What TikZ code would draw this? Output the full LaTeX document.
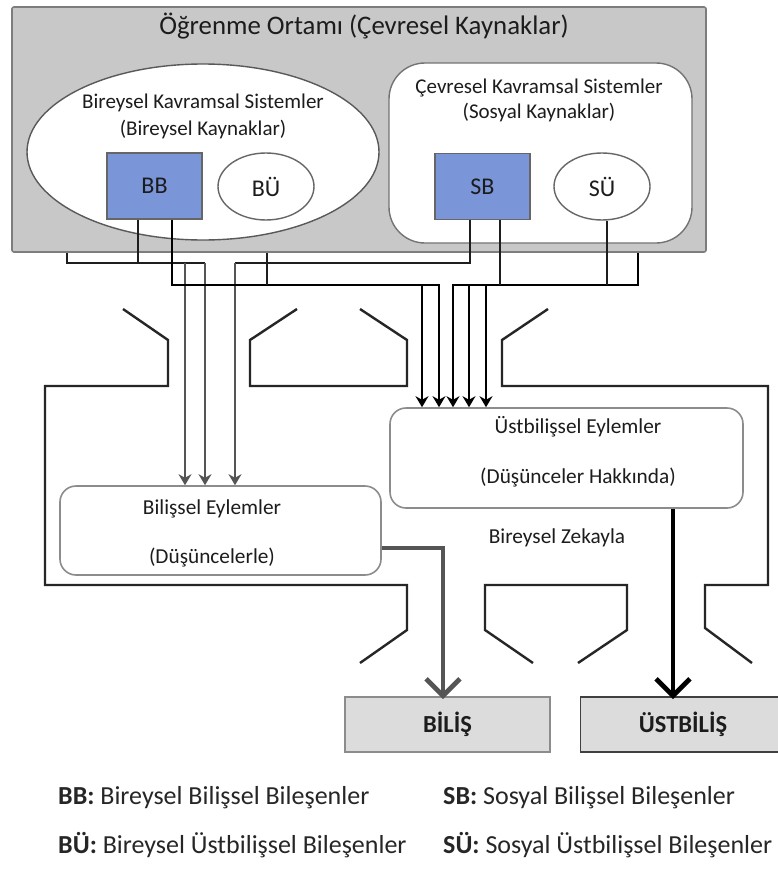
\documentclass[tikz,border=0pt]{standalone}
\usepackage{fontspec}
\setmainfont{Carlito}
\usetikzlibrary{arrows.meta,shapes.geometric}

\definecolor{envfill}{RGB}{200,200,200}
\definecolor{envline}{RGB}{125,125,125}
\definecolor{bluebox}{RGB}{122,150,216}
\definecolor{ink}{RGB}{28,28,28}
\definecolor{wirec}{RGB}{30,30,30}
\definecolor{arrgray}{RGB}{85,85,85}
\definecolor{outfill}{RGB}{220,220,220}
\definecolor{boxline}{RGB}{140,140,140}

\begin{document}
\begin{tikzpicture}[x=1pt,y=-1pt,
  every node/.style={inner sep=0pt, text=ink},
  titletext/.style={font=\fontsize{26.8}{31}\selectfont},
  midtext/.style={font=\fontsize{21}{25}\selectfont},
  acttext/.style={font=\fontsize{21.3}{25}\selectfont},
  symtext/.style={font=\fontsize{24}{28}\selectfont},
  legendtext/.style={font=\fontsize{26}{31}\selectfont, anchor=west, text=black!85},
  envbox/.style={draw=envline, fill=envfill, line width=1.6pt, rounded corners=2pt,
    minimum width=694pt, minimum height=245pt},
  bigoval/.style={ellipse, draw=black!65, fill=white, line width=1.4pt,
    minimum width=352pt, minimum height=176pt},
  socbox/.style={draw=black!55, fill=white, line width=1.4pt, rounded corners=36pt,
    minimum width=303pt, minimum height=180pt},
  bluesq/.style={draw=black!60, fill=bluebox, line width=1.4pt, symtext,
    minimum width=95pt, minimum height=66pt},
  smalloval/.style={ellipse, draw=black!60, fill=white, line width=1.4pt, symtext,
    minimum width=96pt, minimum height=67pt},
  actbox/.style={draw=boxline, fill=white, line width=1.6pt, rounded corners=16pt},
  outbox/.style={fill=outfill, line width=1.6pt, font=\fontsize{24.5}{28}\selectfont\bfseries,
    minimum width=205pt, minimum height=55pt},
  wire/.style={draw=wirec, line width=2.3pt, line join=miter},
  arr/.style={wire, -{Stealth[length=11pt,width=13pt]}},
  arrdark/.style={arr, draw=black},
  frame/.style={draw=black!85, line width=2.4pt, line join=miter},
  bigarrow/.style={line width=4.8pt, -{Straight Barb[length=17pt,width=34pt]}}
]
\clip (0,0) rectangle (778,870);
\fill[white] (0,0) rectangle (778,870);

% learning environment with its two resource systems
\node[envbox] (env) at (359,129.5) {};
\node[titletext] (ttl) at (364,26) {Öğrenme Ortamı (Çevresel Kaynaklar)};

\node[bigoval] (bks) at (203,152) {};
\node[midtext] (bks1) at (203,103) {Bireysel Kavramsal Sistemler};
\node[midtext] (bks2) at (203,130) {(Bireysel Kaynaklar)};
\node[bluesq] (bb) at (154.5,186) {BB};
\node[smalloval] (bu) at (266,186.5) {BÜ};

\node[socbox] (cks) at (540.5,153) {};
\node[midtext] (cks1) at (539,88) {Çevresel Kavramsal Sistemler};
\node[midtext] (cks2) at (539,113) {(Sosyal Kaynaklar)};
\node[bluesq] (sb) at (482.5,186.5) {SB};
\node[smalloval] (su) at (602,186.5) {SÜ};

% the individual's frame (funnel openings top and bottom)
\draw[frame] (123,309) -- (168,340) -- (168,386) -- (45,386) -- (45,585)
  -- (407,585) -- (407,630) -- (360,663);
\draw[frame] (297,309) -- (250,340) -- (250,386) -- (407,386) -- (407,340) -- (360,309);
\draw[frame] (548,309) -- (502,340) -- (502,386) -- (768,386) -- (768,585)
  -- (705,585) -- (705,628) -- (752,663);
\draw[frame] (533,663) -- (485,630) -- (485,585) -- (627,585) -- (627,630) -- (578,663);

% cognitive and metacognitive actions
\node[actbox, minimum width=321pt, minimum height=89pt] (be) at (220.5,530.5) {};
\node[acttext] (be1) at (212,509) {Bilişsel Eylemler};
\node[acttext] (be2) at (212,557) {(Düşüncelerle)};

\node[actbox, minimum width=353pt, minimum height=100pt] (ue) at (566.5,458) {};
\node[acttext] (ue1) at (578,427) {Üstbilişsel Eylemler};
\node[acttext] (ue2) at (578,477) {(Düşünceler Hakkında)};
\node[acttext] (bz) at (557,538) {Bireysel Zekayla};

% results
\node[outbox, draw=black!45] (bilis) at (447.5,724.5) {BİLİŞ};
\node[outbox, draw=black!75] (ustbilis) at (683,724.5) {ÜSTBİLİŞ};

% junction points of the wiring
\coordinate (l67) at (67,263);
\coordinate (l138) at (138,263);
\coordinate (l185) at (185,263);
\coordinate (l205) at (205,263);
\coordinate (m235) at (235,263);
\coordinate (m470) at (470,263);
\coordinate (p172) at (172,285);
\coordinate (p267) at (267,285);
\coordinate (p422) at (422,285);
\coordinate (p439) at (439,285);
\coordinate (q453) at (453,285);
\coordinate (q469) at (469,285);
\coordinate (q486) at (486,285);
\coordinate (q500) at (500,285);
\coordinate (q607) at (607,285);
\coordinate (q638) at (638,285);
\coordinate (o673) at (673,0);

% wiring into the cognitive actions
\draw[wire] (env.south -| l67) -- (l67) -- (l205);
\draw[wire] (bb.south -| l138) -- (l138);
\draw[wire] (sb.south -| m470) -- (m470) -- (m235);
\draw[arr, draw=arrgray] (l185) -- (be.north -| l185);
\draw[arr, draw=arrgray] (l205) -- (be.north -| l205);
\draw[arr, draw=arrgray] (m235) -- (be.north -| m235);

% wiring into the metacognitive actions
\draw[arrdark] (bb.south -| p172) -- (p172) -- (p439) -- (ue.north -| p439);
\draw[wire] (env.south -| p267) -- (p267);
\draw[arrdark] (p422) -- (ue.north -| p422);
\draw[arrdark] (env.south -| q638) -- (q638) -- (q453) -- (ue.north -| q453);
\draw[wire] (sb.south -| q500) -- (q500);
\draw[wire] (su.south -| q607) -- (q607);
\draw[arrdark] (q469) -- (ue.north -| q469);
\draw[arrdark] (q486) -- (ue.north -| q486);

% outputs
\draw[bigarrow, draw=arrgray] ([yshift=-17.5pt]be.east) -| ([xshift=-4.5pt,yshift=-3pt]bilis.north);
\draw[bigarrow, draw=black] (ue.south -| o673) -- ([yshift=-3pt]ustbilis.north -| o673);

% legend
\node[legendtext] (lg1) at (58,798) {\textbf{BB:} Bireysel Bilişsel Bileşenler};
\node[legendtext] (lg2) at (443,798) {\textbf{SB:} Sosyal Bilişsel Bileşenler};
\node[legendtext] (lg3) at (58,845) {\textbf{BÜ:} Bireysel Üstbilişsel Bileşenler};
\node[legendtext] (lg4) at (443,845) {\textbf{SÜ:} Sosyal Üstbilişsel Bileşenler};
\end{tikzpicture}
\end{document}
